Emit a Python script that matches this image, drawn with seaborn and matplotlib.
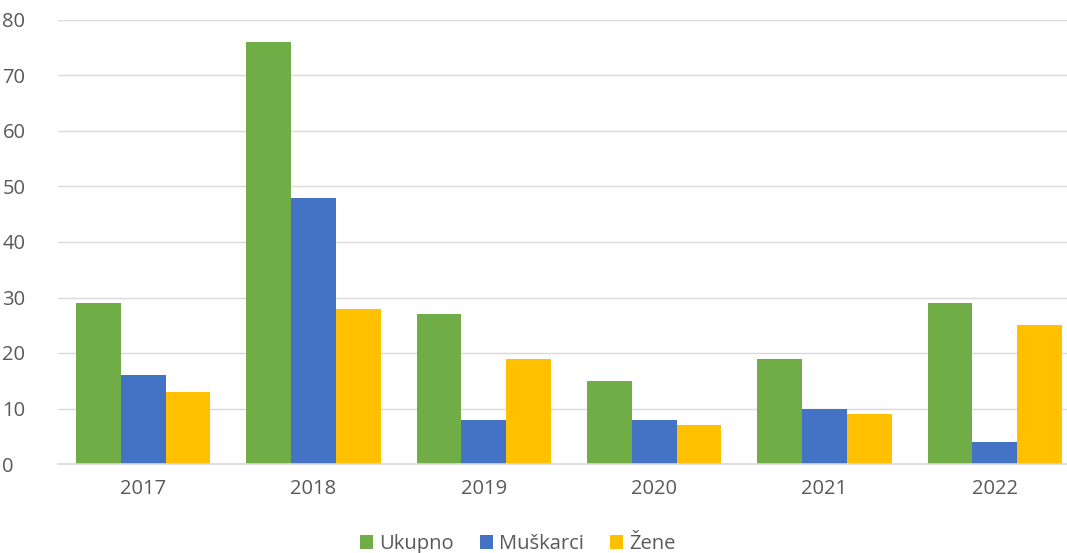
import pandas as pd
import matplotlib
matplotlib.use('Agg')
import matplotlib.pyplot as plt
import seaborn as sns

years = ['2017', '2018', '2019', '2020', '2021', '2022']
ukupno = [29, 76, 27, 15, 19, 29]
muskarci = [16, 48, 8, 8, 10, 4]
zene = [13, 28, 19, 7, 9, 25]
series = ['Ukupno', 'Muškarci', 'Žene']
colors = ['#70AD47', '#4472C4', '#FFC000']

df = pd.DataFrame({'year': years, 'Ukupno': ukupno, 'Muškarci': muskarci, 'Žene': zene})
df = df.melt(id_vars='year', var_name='serija', value_name='broj')

sns.set_style('white')
plt.rcParams['font.family'] = ['Open Sans', 'DejaVu Sans']

fig = plt.figure(figsize=(10.67, 5.53), dpi=100)
# plot area runs a little past the right edge of the picture
ax = fig.add_axes([58 / 1067, 1 - 464 / 553, 1022 / 1067, (464 - 20) / 553])

sns.barplot(data=df, x='year', y='broj', hue='serija', hue_order=series,
            palette=colors, width=0.79, saturation=1, linewidth=0, ax=ax, legend=True)

ax.set_ylim(0, 80)
ax.set_yticks(range(0, 81, 10))
ax.yaxis.grid(True, color='#D9D9D9', linewidth=1)
ax.set_axisbelow(True)
for s in ['top', 'right', 'left']:
    ax.spines[s].set_visible(False)
ax.spines['bottom'].set_color('#D9D9D9')
ax.spines['bottom'].set_linewidth(1.2)
ax.set_xlabel('')
ax.set_ylabel('')
ax.tick_params(axis='both', length=0, labelsize=14.5, labelcolor='#595959')
ax.tick_params(axis='x', pad=11)
ax.tick_params(axis='y', pad=40)
for lbl in ax.get_yticklabels():
    lbl.set_horizontalalignment('left')

ax.legend(loc='center', bbox_to_anchor=((518 - 58) / 1022, -(544 - 464) / 444), ncol=3,
          frameon=False, fontsize=14.5, labelcolor='#595959', handlelength=0.65,
          handleheight=0.65, handletextpad=0.3, columnspacing=1.3)

fig.savefig('out.png', dpi=100)
